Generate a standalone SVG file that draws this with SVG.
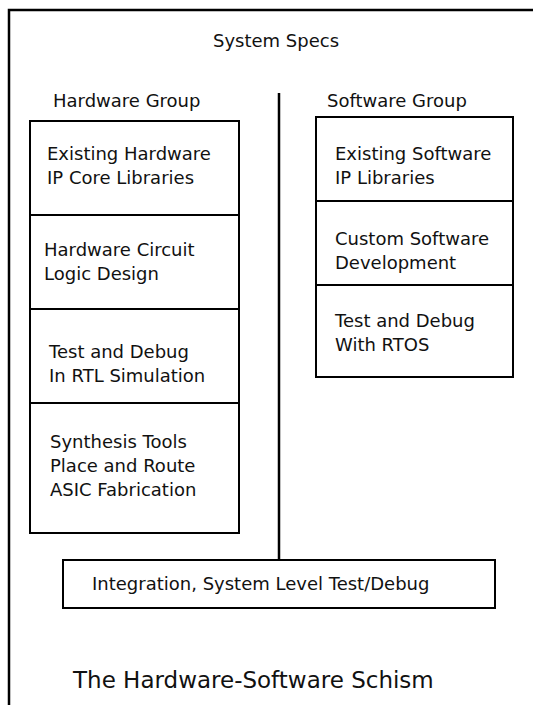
<svg xmlns="http://www.w3.org/2000/svg" width="534" height="705" viewBox="0 0 534 705">
<style>
text { font-family: "DejaVu Sans", "Liberation Sans", sans-serif; font-size: 18px; fill: #111; }
.box { fill: #fff; stroke: #000; stroke-width: 2; }
.line { stroke: #000; stroke-width: 2.5; fill: none; }
.title { font-size: 23px; }
</style>
<rect width="534" height="705" fill="#fff"/>
<g id="frame">
<path class="line" d="M9,705 V10 H533"/>
</g>
<g id="connectors">
<line class="line" x1="279" y1="93" x2="279" y2="560"/>
</g>
<g id="system-specs"><text x="213" y="47">System Specs</text></g>
<g id="hardware-group-label"><text x="53" y="107">Hardware Group</text></g>
<g id="software-group-label"><text x="327" y="107">Software Group</text></g>
<g id="hw1">
<rect class="box" x="30" y="121" width="209" height="94"/>
<text x="47" y="160">Existing Hardware</text>
<text x="47" y="184">IP Core Libraries</text>
</g>
<g id="hw2">
<rect class="box" x="30" y="215" width="209" height="94"/>
<text x="44" y="256">Hardware Circuit</text>
<text x="44" y="280">Logic Design</text>
</g>
<g id="hw3">
<rect class="box" x="30" y="309" width="209" height="94"/>
<text x="49" y="358">Test and Debug</text>
<text x="49" y="382">In RTL Simulation</text>
</g>
<g id="hw4">
<rect class="box" x="30" y="403" width="209" height="130"/>
<text x="50" y="448">Synthesis Tools</text>
<text x="50" y="472">Place and Route</text>
<text x="50" y="496">ASIC Fabrication</text>
</g>
<g id="sw1">
<rect class="box" x="316" y="117" width="197" height="84"/>
<text x="335" y="160">Existing Software</text>
<text x="335" y="184">IP Libraries</text>
</g>
<g id="sw2">
<rect class="box" x="316" y="201" width="197" height="84"/>
<text x="335" y="245">Custom Software</text>
<text x="335" y="269">Development</text>
</g>
<g id="sw3">
<rect class="box" x="316" y="285" width="197" height="92"/>
<text x="335" y="327">Test and Debug</text>
<text x="335" y="351">With RTOS</text>
</g>
<g id="integration">
<rect class="box" x="63" y="560" width="432" height="48"/>
<text x="92" y="590">Integration, System Level Test/Debug</text>
</g>
<g id="caption"><text class="title" x="73" y="688">The Hardware-Software Schism</text></g>
</svg>
